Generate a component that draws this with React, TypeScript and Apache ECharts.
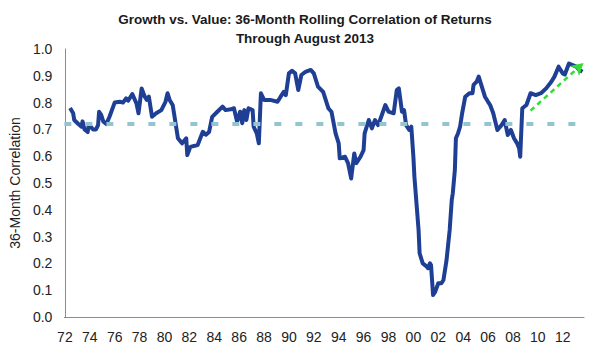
import React, { useEffect, useRef } from "react";
import * as echarts from "echarts";

// Month index since Jan 1972 (0 = Jan 1972, 499 = Aug 2013)
const months: number[] = [
  5, 8, 9, 13, 16, 17, 19, 22, 23, 25, 27, 30, 32, 33, 35, 37, 40, 43, 48, 53,
  56, 59, 61, 65, 69, 71, 74, 77, 79, 81, 84, 88, 93, 97, 99, 101, 104, 109, 113, 117,
  118, 121, 128, 133, 136, 139, 142, 147, 152, 155, 160, 163, 166, 169, 171, 173, 175, 177, 181, 182,
  185, 187, 189, 192, 198, 205, 208, 211, 213, 216, 219, 222, 225, 228, 232, 237, 240, 244, 249, 254,
  257, 261, 264, 265, 270, 273, 276, 279, 281, 285, 288, 289, 293, 296, 299, 302, 305, 309, 312, 317,
  320, 322, 325, 327, 329, 332, 334, 336, 337, 339, 341, 342, 345, 349, 350, 352, 353, 355, 357, 360,
  363, 365, 368, 371, 373, 374, 376, 377, 379, 381, 383, 386, 390, 393, 394, 397, 399, 401, 405, 408,
  410, 413, 417, 421, 424, 427, 430, 433, 436, 438, 439, 441, 445, 449, 454, 459, 464, 469, 472, 476,
  480, 482, 486, 493, 496, 499,
];

const correlation: number[] = [
  0.78, 0.76, 0.735, 0.72, 0.71, 0.73, 0.70, 0.69, 0.716, 0.71, 0.70, 0.70, 0.716, 0.766, 0.754, 0.73, 0.72, 0.747, 0.80, 0.803,
  0.80, 0.816, 0.807, 0.832, 0.797, 0.76, 0.853, 0.822, 0.81, 0.822, 0.747, 0.76, 0.772, 0.803, 0.835, 0.81, 0.79, 0.667, 0.648, 0.667,
  0.604, 0.635, 0.642, 0.691, 0.68, 0.69, 0.747, 0.766, 0.785, 0.772, 0.775, 0.779, 0.729, 0.766, 0.723, 0.772, 0.735, 0.779, 0.772, 0.71,
  0.685, 0.648, 0.835, 0.81, 0.81, 0.803, 0.822, 0.84, 0.828, 0.909, 0.919, 0.909, 0.847, 0.903, 0.915, 0.922, 0.909, 0.86, 0.84, 0.779,
  0.766, 0.685, 0.648, 0.592, 0.598, 0.574, 0.517, 0.61, 0.574, 0.598, 0.623, 0.685, 0.735, 0.704, 0.735, 0.716, 0.747, 0.791, 0.766, 0.76,
  0.847, 0.853, 0.766, 0.772, 0.716, 0.698, 0.71, 0.598, 0.523, 0.424, 0.325, 0.238, 0.2, 0.188, 0.182, 0.2, 0.194, 0.082, 0.094, 0.126,
  0.126, 0.138, 0.213, 0.325, 0.437, 0.462, 0.549, 0.667, 0.685, 0.71, 0.76, 0.822, 0.835, 0.835, 0.866, 0.878, 0.897, 0.872, 0.822, 0.803,
  0.791, 0.76, 0.698, 0.716, 0.735, 0.679, 0.698, 0.667, 0.648, 0.629, 0.598, 0.779, 0.791, 0.835, 0.828, 0.835, 0.853, 0.878, 0.897, 0.934,
  0.909, 0.905, 0.946, 0.934, 0.922, 0.915,
];

const yearTickMonths: number[] = [
  0, 24, 48, 72, 96, 120, 144, 168, 192, 216, 240, 264, 288, 312, 336, 360, 384, 408, 432, 456, 480,
];
const yearTickLabels: string[] = [
  "72", "74", "76", "78", "80", "82", "84", "86", "88", "90", "92", "94", "96", "98", "00", "02", "04", "06", "08", "10", "12",
];

const averageCorrelation = 0.725;
const trendStart: [number, number] = [449, 0.77];
const trendEnd: [number, number] = [500, 0.948];

const titleLines = ["Growth vs. Value: 36-Month Rolling Correlation of Returns", "Through August 2013"];
const yAxisName = "36-Month Correlation";

export default function App() {
  const ref = useRef<HTMLDivElement>(null);

  useEffect(() => {
    document.body.style.margin = "0";
    if (!ref.current) return;
    const chart = echarts.init(ref.current, undefined, { renderer: "svg" });
    const font = "'Liberation Sans', Arial, sans-serif";
    const labelMap: Record<number, string> = {};
    yearTickMonths.forEach((m, i) => (labelMap[m] = yearTickLabels[i]));

    chart.setOption({
      animation: false,
      backgroundColor: "#ffffff",
      title: {
        text: titleLines.join("\n"),
        left: 300,
        top: 5,
        textAlign: "center",
        textStyle: {
          fontFamily: font,
          fontSize: 13.5,
          fontWeight: "bold",
          color: "#1a1a1a",
          lineHeight: 19,
        },
      },
      grid: { left: 63, right: 15, top: 49, bottom: 39 },
      xAxis: {
        type: "value",
        min: -0.5,
        max: 500.5,
        axisLine: { show: true, lineStyle: { color: "#8c8c8c", width: 1 } },
        axisTick: { show: false },
        splitLine: { show: false },
        axisLabel: {
          customValues: yearTickMonths,
          formatter: (v: number) => labelMap[Math.round(v)] ?? "",
          fontFamily: font,
          fontSize: 14,
          color: "#222",
          margin: 13,
        },
      },
      yAxis: {
        type: "value",
        min: 0,
        max: 1,
        interval: 0.1,
        name: yAxisName,
        nameLocation: "middle",
        nameGap: 42,
        nameTextStyle: { fontFamily: font, fontSize: 14, color: "#222" },
        axisLine: { show: true, lineStyle: { color: "#8c8c8c", width: 1 } },
        axisTick: { show: false },
        splitLine: { show: false },
        axisLabel: {
          formatter: (v: number) => v.toFixed(1),
          fontFamily: font,
          fontSize: 14,
          color: "#222",
          margin: 12,
        },
      },
      series: [
        {
          type: "line",
          name: "avg",
          data: [],
          z: 1,
          markLine: {
            silent: true,
            symbol: ["none", "none"],
            label: { show: false },
            lineStyle: { color: "#93c4d2", width: 4, type: [7, 14] },
            data: [{ yAxis: averageCorrelation }],
          },
        },
        {
          type: "line",
          name: "Correlation",
          data: months.map((m, i) => [m, correlation[i]]),
          showSymbol: false,
          symbol: "none",
          z: 3,
          lineStyle: { color: "#1f3f94", width: 4, join: "round" },
        },
        {
          type: "line",
          name: "trend",
          data: [],
          z: 4,
          markLine: {
            silent: true,
            symbol: ["none", "arrow"],
            symbolSize: [10, 12],
            label: { show: false },
            lineStyle: { color: "#33dd33", width: 2.5, type: [5, 4] },
            data: [[{ coord: trendStart }, { coord: trendEnd }]],
          },
        },
      ],
    });
    return () => chart.dispose();
  }, []);

  return (
    <div
      ref={ref}
      style={{ position: "absolute", left: 0, top: 0, width: 599, height: 356 }}
    />
  );
}
